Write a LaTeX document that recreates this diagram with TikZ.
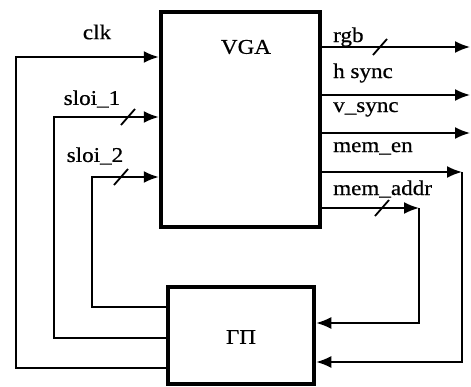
\documentclass[tikz,border=0pt]{standalone}
\usepackage{fontspec}
\setmainfont{Liberation Serif}[FakeStretch=1.1,FakeBold=0.6]
\usetikzlibrary{arrows.meta}

\begin{document}
\begin{tikzpicture}[x=1pt,y=-1pt,every node/.style={font=\fontsize{21}{24}\selectfont},>={Latex[length=15pt,width=12pt]},
  box/.style={draw,line width=4.5pt,inner sep=0pt},
  wire/.style={line width=1.8pt},
  lbl/.style={anchor=base west,inner sep=0pt}]
\useasboundingbox (0,0) rectangle (471,386);
\node[box,minimum width=159pt,minimum height=215pt] (vga) at (240.5,119.5) {};
\node (vgatxt) at (246,47) {VGA};
\node[box,minimum width=146pt,minimum height=97pt] (gp) at (241,335.5) {};
\node (gptxt) at (241,337) {ГП};
% inputs of VGA, fed from the GP
\coordinate (clkl) at (16,57);
\coordinate (clkb) at (16,368);
\draw[wire,->] (gp.west |- clkb) -- (clkb) -- (clkl) -- (vga.west |- clkl);
\node (clk) at (97,32) {clk};
\coordinate (s1l) at (54,117);
\coordinate (s1b) at (54,338);
\draw[wire,->] (gp.west |- s1b) -- (s1b) -- (s1l) -- (vga.west |- s1l);
\draw[wire] (128,117) ++(-7,8) -- ++(14,-16);
\node (sloi1) at (92,99) {sloi\_1};
\coordinate (s2l) at (92,177);
\coordinate (s2b) at (92,307);
\draw[wire,->] (gp.west |- s2b) -- (s2b) -- (s2l) -- (vga.west |- s2l);
\draw[wire] (121,177) ++(-7,8) -- ++(14,-16);
\node (sloi2) at (95,156) {sloi\_2};
% outputs of VGA
\coordinate (rgbr) at (470,47);
\draw[wire,->] (vga.east |- rgbr) -- (rgbr);
\draw[wire] (380,47) ++(-7,8) -- ++(14,-16);
\node[lbl] (rgb) at (333,42) {rgb};
\coordinate (hsr) at (470,95);
\draw[wire,->] (vga.east |- hsr) -- (hsr);
\node[lbl] (hs) at (333,78) {h sync};
\coordinate (vsr) at (470,133);
\draw[wire,->] (vga.east |- vsr) -- (vsr);
\node[lbl] (vs) at (333,112) {v\_sync};
\coordinate (enr) at (462,172);
\coordinate (enb) at (462,362);
\draw[wire,->] (vga.east |- enr) -- (enr);
\draw[wire,->] (enr) -- (enb) -- (gp.east |- enb);
\node[lbl] (en) at (333,152) {mem\_en};
\coordinate (adr) at (419,208);
\coordinate (adb) at (419,323);
\draw[wire,->] (vga.east |- adr) -- (adr);
\draw[wire,->] (adr) -- (adb) -- (gp.east |- adb);
\draw[wire] (382,208) ++(-7,8) -- ++(14,-16);
\node[lbl] (addr) at (333,195) {mem\_addr};
\end{tikzpicture}
\end{document}
